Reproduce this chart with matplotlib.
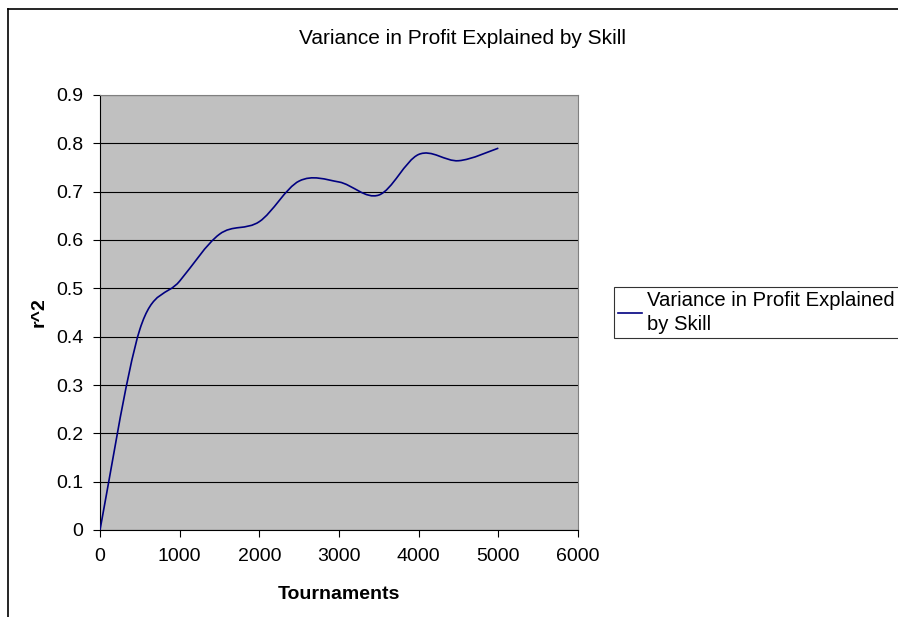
import matplotlib
matplotlib.use('Agg')
from matplotlib import pyplot as plt
from matplotlib.path import Path
from matplotlib.patches import PathPatch
from matplotlib.lines import Line2D

tournaments = [0, 500, 1000, 1500, 2000, 2500, 3000, 3500, 4000, 4500, 5000]
r_squared = [0.0, 0.415, 0.515, 0.612, 0.638, 0.722, 0.72, 0.693, 0.777, 0.764, 0.79]
series_name = 'Variance in Profit Explained\nby Skill'
xticks = [0, 1000, 2000, 3000, 4000, 5000, 6000]
yticks = [0, 0.1, 0.2, 0.3, 0.4, 0.5, 0.6, 0.7, 0.8, 0.9]

W, H = 898, 617
plt.rcParams['font.family'] = ['Liberation Sans', 'DejaVu Sans']

fig = plt.figure(figsize=(W / 100, H / 100), dpi=100)
ax = fig.add_axes([100 / W, 1 - 530 / H, 478 / W, 435 / H])
ax.set_facecolor('#c0c0c0')


def smooth_path(xs, ys):
    # excel style smoothed line: cubic bezier through every point
    pts = list(zip(xs, ys))
    n = len(pts)
    verts = [pts[0]]
    codes = [Path.MOVETO]
    for i in range(n - 1):
        p0 = pts[max(i - 1, 0)]
        p1 = pts[i]
        p2 = pts[i + 1]
        p3 = pts[min(i + 2, n - 1)]
        c1 = (p1[0] + (p2[0] - p0[0]) / 6, p1[1] + (p2[1] - p0[1]) / 6)
        c2 = (p2[0] - (p3[0] - p1[0]) / 6, p2[1] - (p3[1] - p1[1]) / 6)
        verts += [c1, c2, p2]
        codes += [Path.CURVE4] * 3
    return Path(verts, codes)


line_color = '#000080'
ax.add_patch(PathPatch(smooth_path(tournaments, r_squared), facecolor='none',
                       edgecolor=line_color, lw=1.2, zorder=3))

ax.set_xlim(0, 6000)
ax.set_ylim(0, 0.9)
ax.set_xticks(xticks)
ax.set_yticks(yticks)
ax.set_xticklabels([str(t) for t in xticks])
ax.set_yticklabels(['0' if t == 0 else '%.1f' % t for t in yticks])
ax.yaxis.grid(True, color='black', lw=0.8)
ax.set_axisbelow(True)
ax.tick_params(axis='both', direction='out', length=5, width=0.8, labelsize=14, colors='black')
ax.tick_params(axis='y', pad=7)
ax.tick_params(axis='x', pad=8)
ax.spines['left'].set_color('black')
ax.spines['bottom'].set_color('black')
ax.spines['top'].set_color('#808080')
ax.spines['right'].set_color('#808080')

ax.set_xlabel('Tournaments', fontsize=14, fontweight='bold', labelpad=15)
ax.set_ylabel('r^2', fontsize=14, fontweight='bold', labelpad=6)

fig.text(463 / W, 1 - 38 / H, 'Variance in Profit Explained by Skill',
         ha='center', va='center', fontsize=15)

handle = Line2D([], [], color=line_color, lw=1.2)
leg = fig.legend([handle], [series_name], loc='upper left',
                 bbox_to_anchor=(614 / W, 1 - 287 / H), fontsize=14.6,
                 frameon=True, fancybox=False, borderpad=0.2, borderaxespad=0,
                 handlelength=1.2, handletextpad=0.25, labelspacing=0.2)
for t in leg.get_texts():
    t.set_linespacing(1.3)
leg.get_frame().set_edgecolor('black')
leg.get_frame().set_linewidth(0.8)

# outer chart border, cut off at right and bottom
fig.add_artist(Line2D([8 / W, 1.0], [1 - 9 / H, 1 - 9 / H], color='black', lw=1.2))
fig.add_artist(Line2D([8 / W, 8 / W], [1 - 9 / H, 0.0], color='black', lw=1.2))

fig.savefig('out.png', dpi=100)
